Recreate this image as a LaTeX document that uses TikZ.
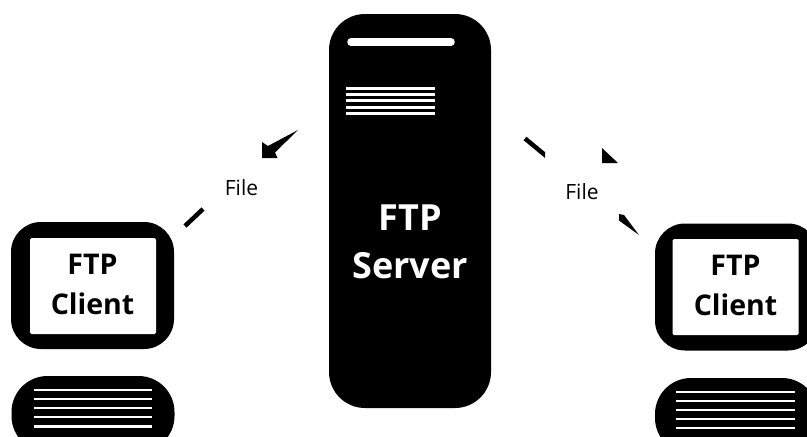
\documentclass[tikz,border=0pt]{standalone}
\usepackage{fontspec}
\setmainfont{Open Sans}
\usetikzlibrary{positioning}

\begin{document}
\begin{tikzpicture}[
            x=1pt,y=-1pt,
            every node/.style={inner sep=0pt,outer sep=0pt,align=center},
            blackbox/.style={fill=black,minimum width=#1},
            tower/.style={blackbox=162pt,minimum height=394pt,rounded corners=36pt},
            monitor/.style={blackbox=163pt,minimum height=127pt,rounded corners=30pt},
            stand/.style={blackbox=163pt,minimum height=76pt,rounded corners=36pt},
            screen/.style={fill=white,minimum width=126pt,minimum height=96pt,rounded corners=1.5pt},
            clientname/.style={font=\fontsize{28.5}{40}\selectfont\bfseries},
            filelabel/.style={font=\fontsize{21}{24}\selectfont},
            slit/.style={white,line width=#1},
            wire/.style={black,line width=4.5pt},
            tip/.style={fill=black}
        ]
        \useasboundingbox (0,0) rectangle (807,437);
        \clip (0,0) rectangle (807,437);

        % server
        \node[tower] (server) at (410,211) {};
        \node[font=\fontsize{36}{48}\selectfont\bfseries,text=white] (name) at (410,242) {FTP\\Server};
        \coordinate (barl) at (351,42);
        \coordinate (barr) at (451,42);
        \draw[slit=7.5pt,line cap=round] (barl) -- (barr);
        \foreach \y in {88,94,100.5,107,113.5}
            \draw[slit=3pt] (346,\y) -- (435,\y);

        % left client
        \node[monitor] (lmon) at (92.5,285.5) {};
        \node[screen] (lscr) at (93,286) {};
        \node[clientname] (ltxt) at (92.5,284) {FTP\\Client};
        \node[stand] (lstand) at (93,414) {};
        \foreach \y in {390,399,408,417,426.5}
            \draw[slit=2.8pt] (34,\y) -- (152,\y);

        % right client
        \node[monitor] (rmon) at (736.5,287) {};
        \node[screen] (rscr) at (735.5,287) {};
        \node[clientname] (rtxt) at (735.5,285) {FTP\\Client};
        \node[stand] (rstand) at (736.5,416) {};
        \foreach \y in {392,401,410,419,428}
            \draw[slit=2.8pt] (676,\y) -- (795,\y);

        % left arrow
        \node[filelabel] (lfile) at (241.5,188) {File};
        \coordinate (la) at (185,226);
        \coordinate (lb) at (203,209);
        \draw[wire] (la) -- (lb);
        \fill[tip] (298,130) -- (275,152.5) -- (277.5,158) -- (262,158) -- (262,142) -- (268,146) -- cycle;

        % right arrow
        \node[filelabel] (rfile) at (582,192) {File};
        \coordinate (ra) at (525,138.5);
        \coordinate (rb) at (545,155);
        \begin{scope}
            \clip (510,120) rectangle (545,170);
            \draw[wire] (ra) -- (548,157.5);
        \end{scope}
        \fill[tip] (602,148) -- (618,163) -- (602,163) -- cycle;
        \fill[tip] (619,214) -- (624,215) -- (639,235) -- (619,220.5) -- cycle;
    \end{tikzpicture}
\end{document}
